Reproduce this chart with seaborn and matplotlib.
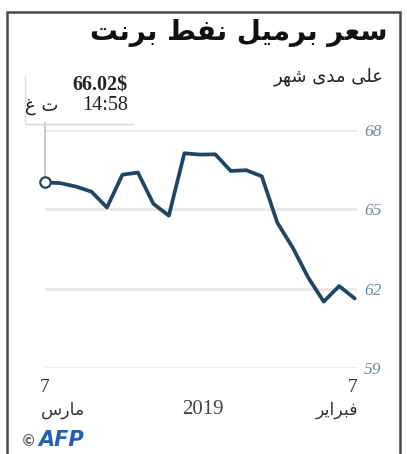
import matplotlib
matplotlib.use("Agg")
import matplotlib.pyplot as plt
import seaborn as sns
import pandas as pd
from matplotlib.patches import Rectangle
from matplotlib.lines import Line2D

# Brent closing price, trading days 7 Feb -> 7 Mar 2019
dates = ["2019-02-07", "2019-02-08", "2019-02-11", "2019-02-12", "2019-02-13",
         "2019-02-14", "2019-02-15", "2019-02-18", "2019-02-19", "2019-02-20",
         "2019-02-21", "2019-02-22", "2019-02-25", "2019-02-26", "2019-02-27",
         "2019-02-28", "2019-03-01", "2019-03-04", "2019-03-05", "2019-03-06",
         "2019-03-07"]
prices = [61.63, 62.10, 61.51, 62.42, 63.55, 64.50, 66.25, 66.48, 66.45, 67.08,
          67.07, 67.12, 64.76, 65.21, 66.39, 66.31, 65.07, 65.67, 65.86, 65.99,
          66.02]
yticks = [59, 62, 65, 68]

title = "سعر برميل نفط برنت"
subtitle = "على مدى شهر"
last_price = "66.02$"
last_time = "14:58"
gmt = "ت غ"
month_first = "فبراير"
month_last = "مارس"
year = "2019"

# matplotlib has no arabic shaping, so pick presentation forms by hand
FORMS = {
    'ا': ('\uFE8D', '\uFE8E', None, None),
    'ب': ('\uFE8F', '\uFE90', '\uFE91', '\uFE92'),
    'ت': ('\uFE95', '\uFE96', '\uFE97', '\uFE98'),
    'د': ('\uFEA9', '\uFEAA', None, None),
    'ر': ('\uFEAD', '\uFEAE', None, None),
    'س': ('\uFEB1', '\uFEB2', '\uFEB3', '\uFEB4'),
    'ش': ('\uFEB5', '\uFEB6', '\uFEB7', '\uFEB8'),
    'ط': ('\uFEC1', '\uFEC2', '\uFEC3', '\uFEC4'),
    'ع': ('\uFEC9', '\uFECA', '\uFECB', '\uFECC'),
    'غ': ('\uFECD', '\uFECE', '\uFECF', '\uFED0'),
    'ف': ('\uFED1', '\uFED2', '\uFED3', '\uFED4'),
    'ل': ('\uFEDD', '\uFEDE', '\uFEDF', '\uFEE0'),
    'م': ('\uFEE1', '\uFEE2', '\uFEE3', '\uFEE4'),
    'ن': ('\uFEE5', '\uFEE6', '\uFEE7', '\uFEE8'),
    'ه': ('\uFEE9', '\uFEEA', '\uFEEB', '\uFEEC'),
    'ى': ('\uFEEF', '\uFEF0', None, None),
    'ي': ('\uFEF1', '\uFEF2', '\uFEF3', '\uFEF4'),
}


def shape(text):
    out = []
    for i, ch in enumerate(text):
        if ch not in FORMS:
            out.append(ch)
            continue
        prev = text[i - 1] if i > 0 else ''
        nxt = text[i + 1] if i + 1 < len(text) else ''
        jp = prev in FORMS and FORMS[prev][2] is not None
        jn = FORMS[ch][2] is not None and nxt in FORMS
        iso, fin, ini, med = FORMS[ch]
        if jp and jn:
            out.append(med)
        elif jp:
            out.append(fin)
        elif jn:
            out.append(ini)
        else:
            out.append(iso)
    return ''.join(reversed(out))


df = pd.DataFrame({"date": pd.to_datetime(dates), "price": prices})
df["day"] = range(len(df))

sns.set_style("white")
plt.rcParams['font.family'] = ['DejaVu Sans']

W, H = 407, 454
fig = plt.figure(figsize=(W / 100, H / 100), dpi=100)
ax = fig.add_axes([45 / W, (H - 368) / H, 312 / W, 238 / H])

sns.lineplot(data=df, x="day", y="price", ax=ax, color="#1d4763", linewidth=2.7,
             zorder=3)
ax.plot(df["day"].iloc[-1], df["price"].iloc[-1], "o", ms=7.5, mfc="white",
        mec="#1d4763", mew=1.6, clip_on=False, zorder=4)

ax.set_xlim(len(df) - 1, -0.15)
ax.set_ylim(yticks[0], yticks[-1])
ax.set_yticks(yticks)
ax.yaxis.tick_right()
ax.tick_params(axis="y", length=0, pad=5, labelsize=12.5, labelcolor="#6f89a8")
for lab in ax.get_yticklabels():
    lab.set_family("Liberation Serif")
    lab.set_style("italic")
ax.grid(axis="y", color="#e6e6e6", linewidth=1.8)
ax.set_xticks([])
ax.set_xlabel("")
ax.set_ylabel("")
for s in ax.spines.values():
    s.set_visible(False)

# callout from the last point
ax.annotate("", xy=(df["day"].iloc[-1], df["price"].iloc[-1]), xytext=(0, 43),
            textcoords="offset points",
            arrowprops=dict(arrowstyle="-", color="#b5b5b5", lw=1.0,
                            shrinkA=0, shrinkB=4))
fig.add_artist(Line2D([25 / W, 133 / W], [1 - 124 / H, 1 - 124 / H],
                      color="#d3d3d3", lw=1.0))
fig.add_artist(Line2D([25 / W, 25 / W], [1 - 76 / H, 1 - 124 / H],
                      color="#e0e0e0", lw=1.0))
fig.text(128 / W, 1 - 86 / H, last_price, ha="right", va="center", fontsize=14.5,
         fontweight="bold", family="Liberation Serif", color="#222222")
fig.text(128 / W, 1 - 105 / H, last_time, ha="right", va="center", fontsize=14.5,
         family="Liberation Serif", color="#222222")
fig.text(25 / W, 1 - 106 / H, shape(gmt), ha="left", va="center", fontsize=13,
         color="#222222")

# titles
fig.text(388 / W, 1 - 33 / H, shape(title), ha="right", va="center",
         fontsize=20, fontweight="bold", color="#111111")
fig.text(384 / W, 1 - 77 / H, shape(subtitle), ha="right", va="center",
         fontsize=13, color="#222222")

# x labels (axis runs right to left)
fig.text(45 / W, 1 - 388 / H, df["date"].iloc[-1].strftime("%-d"), ha="center",
         va="center", fontsize=14, family="Liberation Serif", color="#333333")
fig.text(41 / W, 1 - 410 / H, shape(month_last), ha="left", va="center",
         fontsize=12.5, color="#333333")
fig.text(353 / W, 1 - 388 / H, df["date"].iloc[0].strftime("%-d"), ha="center",
         va="center", fontsize=14, family="Liberation Serif", color="#333333")
fig.text(358 / W, 1 - 410 / H, shape(month_first), ha="right", va="center",
         fontsize=12.5, color="#333333")
fig.text(203 / W, 1 - 410 / H, year, ha="center", va="center", fontsize=15,
         family="Liberation Serif", color="#444444")

# logo
fig.text(21 / W, 1 - 441 / H, "©", ha="left", va="center", fontsize=11,
         color="#666666", fontweight="bold")
fig.text(38 / W, 1 - 440 / H, "AFP", ha="left", va="center", fontsize=15,
         color="#1f5fb4", fontweight="bold", style="italic")

# frame
fig.patches.append(Rectangle((7 / W, -0.05), 393 / W, 1.05 - 12 / H,
                             transform=fig.transFigure, fill=False,
                             edgecolor="#4a4a4a", lw=1.8))

fig.savefig("out.png", dpi=100)
